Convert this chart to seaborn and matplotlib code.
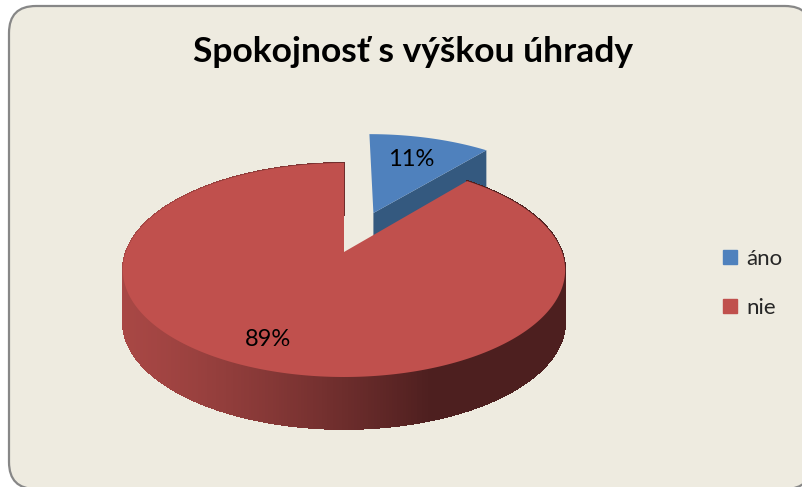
import numpy as np
import matplotlib
matplotlib.use('Agg')
import matplotlib.pyplot as plt
from matplotlib.patches import Polygon, FancyBboxPatch
from matplotlib.lines import Line2D
import seaborn as sns

# data
kategorie = ['áno', 'nie']
podiel = [11, 89]
farby = sns.color_palette(['#4F81BD', '#C0504D'])
titulok = 'Spokojnosť s výškou úhrady'

sns.set_theme(style='white')
plt.rcParams['font.family'] = ['Lato', 'DejaVu Sans']

# geometry of the 3D pie in pixel space
CX, CY = 344, 252
SX, SY = 218, 104
K = 0.168
HLBKA = 52
EXPLODE = [0.425, 0.0]


def proj(X, Y, z=0.0):
    w = 1 + K * Y
    return CX + SX * X / w, CY - SY * Y / w + z


def stena_farba(x):
    # side wall shading: lighter on the left, dark on the right
    t = np.clip((x - 120) / 315, 0, 1)
    lavo = np.array([0.66, 0.28, 0.27])
    pravo = np.array([0.30, 0.12, 0.12])
    return tuple(lavo + (pravo - lavo) * t ** 1.3)


fig = plt.figure(figsize=(8.02, 4.87), dpi=100)
fig.patch.set_facecolor('white')
ax = fig.add_axes([0, 0, 1, 1])
ax.set_xlim(0, 802)
ax.set_ylim(487, 0)
ax.axis('off')

ax.add_patch(FancyBboxPatch((9, 6), 803, 483, boxstyle='round,pad=0,rounding_size=27',
                            facecolor='#EEEBE0', edgecolor='#878787', lw=1.6))

# slice angles (start at 12 o'clock, clockwise)
uhly = []
a = 90.0
for p in podiel:
    a_end = a - p / sum(podiel) * 360
    uhly.append((a_end, a))
    a = a_end

# blue slice (exploded, behind)
lo, hi = uhly[0]
mid = np.radians((lo + hi) / 2)
ox, oy = EXPLODE[0] * np.cos(mid), EXPLODE[0] * np.sin(mid)
t = np.radians(np.linspace(lo, hi, 60))
ex, ey = ox + np.cos(np.radians(lo)), oy + np.sin(np.radians(lo))
face = [proj(ox, oy), proj(ex, ey), proj(ex, ey, HLBKA), proj(ox, oy, HLBKA)]
ax.add_patch(Polygon(face, closed=True, facecolor='#34597F', edgecolor='none'))
top = [proj(ox, oy)] + [proj(ox + np.cos(v), oy + np.sin(v)) for v in t]
ax.add_patch(Polygon(top, closed=True, facecolor=farby[0], edgecolor='none'))

# red slice: walls then top
lo, hi = uhly[1]
t = np.radians(np.linspace(lo, hi, 500))
for v0, v1 in zip(t[:-1], t[1:]):
    p0 = proj(np.cos(v0), np.sin(v0))
    p1 = proj(np.cos(v1), np.sin(v1))
    q1 = proj(np.cos(v1), np.sin(v1), HLBKA)
    q0 = proj(np.cos(v0), np.sin(v0), HLBKA)
    c = stena_farba((p0[0] + p1[0]) / 2)
    ax.add_patch(Polygon([p0, p1, q1, q0], closed=True,
                         facecolor=c, edgecolor=c, lw=0.6, antialiased=False))
top = [proj(0, 0)] + [proj(np.cos(v), np.sin(v)) for v in t]
ax.add_patch(Polygon(top, closed=True, facecolor=farby[1], edgecolor='none'))

# labels
ax.text(411, 160, f'{podiel[0]}%', ha='center', va='center', fontsize=17, color='black')
ax.text(268, 339, f'{podiel[1]}%', ha='center', va='center', fontsize=17, color='black')

ax.text(413, 52, titulok, ha='center', va='center', fontsize=25.5, fontweight='bold', color='black')

handles = [Line2D([], [], marker='s', ls='', markersize=10.5, color=c) for c in farby]
ax.legend(handles, kategorie, loc='upper left', bbox_to_anchor=(0.874, 0.53),
          frameon=False, fontsize=16, handlelength=0.8, handletextpad=0.35,
          labelspacing=1.3)

fig.savefig('out.png', dpi=100)
